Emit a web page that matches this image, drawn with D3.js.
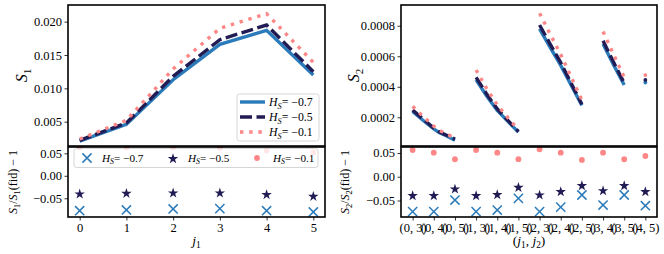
<!DOCTYPE html>
<html><head><meta charset="utf-8">
<script src="https://cdn.jsdelivr.net/npm/d3@7"></script>
<style>
body{margin:0;background:#fff}
svg{display:block}
text{font-family:"Liberation Serif","Times New Roman",serif;fill:#000}
</style>
</head><body>
<svg id="c" width="664" height="254"></svg>
<script>
// ---------------- data ----------------
const j1Ticks = [0, 1, 2, 3, 4, 5];
const hsValues = ["−0.7", "−0.5", "−0.1"];
const colors = ["#2b7bba", "#221c55", "#fd8686"];

// S1 vs j1
const s1Blue = [0.0021, 0.0046, 0.0113, 0.0166, 0.0187, 0.0120];
const s1Dark = [0.0022, 0.0048, 0.0118, 0.0173, 0.0195, 0.0125];
const s1Pink = [0.0024, 0.0052, 0.0129, 0.0190, 0.0212, 0.0139];

// S1 / S1(fid) - 1
const r1Blue = [-0.0776, -0.0760, -0.0738, -0.0731, -0.0776, -0.0804];
const r1Dark = [-0.0389, -0.0376, -0.0367, -0.0367, -0.0404, -0.0442];
const r1Pink = [0.063, 0.063, 0.063, 0.062, 0.056, 0.052];

// S2 (groups, x in pair-index units)
const pairLabels = ["(0, 3)", "(0, 4)", "(0, 5)", "(1, 3)", "(1, 4)", "(1, 5)",
                    "(2, 3)", "(2, 4)", "(2, 5)", "(3, 4)", "(3, 5)", "(4, 5)"];
const s2X = [[0, 0.5, 1, 1.25, 1.5, 2], [3, 3.5, 4, 4.5, 5], [6, 6.5, 7, 7.5, 8], [9, 9.5, 10], [11]];
const s2Blue = [[0.000238, 0.000179, 0.000124, 0.000100, 0.000085, 0.000050],
                [0.000445, 0.000340, 0.000245, 0.000173, 0.000103],
                [0.000780, 0.000658, 0.000540, 0.000408, 0.000278],
                [0.000680, 0.000543, 0.000412],
                [0.000428]];
const s2Dark = [[0.000248, 0.000187, 0.000129, 0.000105, 0.000089, 0.000057],
                [0.000462, 0.000352, 0.000255, 0.000180, 0.000107],
                [0.000805, 0.000680, 0.000558, 0.000422, 0.000285],
                [0.000702, 0.000560, 0.000425],
                [0.000445]];
const s2Pink = [[0.000272, 0.000205, 0.000142, 0.000115, 0.000098, 0.000063],
                [0.000510, 0.000388, 0.000280, 0.000198, 0.000118],
                [0.000882, 0.000745, 0.000612, 0.000462, 0.000312],
                [0.000762, 0.000612, 0.000462],
                [0.000477]];

// S2 / S2(fid) - 1
const r2Blue = [-0.0735, -0.0735, -0.0490, -0.0735, -0.0700, -0.0454, -0.0735, -0.0640, -0.0384, -0.0595, -0.0384, -0.0610];
const r2Dark = [-0.0384, -0.0384, -0.0244, -0.0384, -0.0363, -0.0210, -0.0370, -0.0300, -0.0174, -0.0280, -0.0174, -0.0300];
const r2Pink = [0.0563, 0.0506, 0.0368, 0.0563, 0.0506, 0.0370, 0.0578, 0.0506, 0.0353, 0.0506, 0.0368, 0.0437];

// ---------------- layout ----------------
const svg = d3.select("#c");
const L = {x0: 68, x1: 325}, R = {x0: 401, x1: 657};
const topY = [5, 146], botY = [147, 217];
const FS = 12.5;

const xL = d3.scaleLinear().domain([-0.25, 5.25]).range([L.x0, L.x1]);
const xR = d3.scaleLinear().domain([-0.55, 11.55]).range([R.x0, R.x1]);
const yLT = d3.scaleLinear().domain([0.001355, 0.0225]).range([topY[1], topY[0]]);
const yLB = d3.scaleLinear().domain([-0.0916, 0.064]).range([botY[1], botY[0]]);
const yRT = d3.scaleLinear().domain([0.0000118, 0.000936]).range([topY[1], topY[0]]);
const yRB = d3.scaleLinear().domain([-0.0847, 0.0626]).range([botY[1], botY[0]]);

const defs = svg.append("defs");
let clipId = 0;
function clip(x0, x1, y0, y1) {
  const id = "cl" + (clipId++);
  defs.append("clipPath").attr("id", id).append("rect")
    .attr("x", x0).attr("y", y0).attr("width", x1 - x0).attr("height", y1 - y0);
  return "url(#" + id + ")";
}

function rich(sel, parts, fs) {
  let prevSub = false;
  parts.forEach(p => {
    const ts = sel.append("tspan").text(p.t);
    if (p.i) ts.attr("font-style", "italic");
    if (p.sub) { ts.attr("font-size", fs * 0.7).attr("dy", fs * 0.22); prevSub = true; }
    else if (prevSub) { ts.attr("dy", -fs * 0.22); prevSub = false; }
  });
}

const minus = s => s.replace("-", "−");
function styleAxis(g) {
  g.select(".domain").remove();
  g.attr("font-family", null).attr("font-size", null);
  g.selectAll("text").attr("font-size", FS).style("font-family", '"Liberation Serif",serif');
  g.selectAll("line").attr("stroke-width", 0.8);
}

function yAxis(x0, scale, vals, fmt) {
  svg.append("g").attr("transform", `translate(${x0},0)`)
    .call(d3.axisLeft(scale).tickValues(vals).tickFormat(d => minus(d3.format(fmt)(d))).tickSize(3.5).tickPadding(2.5))
    .call(styleAxis);
}
function xAxis(y0, scale, vals, fmt) {
  svg.append("g").attr("transform", `translate(0,${y0})`)
    .call(d3.axisBottom(scale).tickValues(vals).tickFormat(fmt).tickSize(3.5).tickPadding(2.5))
    .call(styleAxis);
}

const lineStyles = [
  {w: 3.4, dash: null},
  {w: 3.4, dash: "12,4.5"},
  {w: 3.4, dash: "3.4,5.8"}
];

function drawLine(g, pts, sx, sy, k) {
  g.append("path").datum(pts)
    .attr("d", d3.line().x(d => sx(d[0])).y(d => sy(d[1])))
    .attr("fill", "none").attr("stroke", colors[k])
    .attr("stroke-width", lineStyles[k].w)
    .attr("stroke-dasharray", lineStyles[k].dash);
}

function drawMarker(g, cx, cy, k) {
  if (k === 0) {
    const s = 4.6;
    g.append("path").attr("d", `M${cx - s},${cy - s}L${cx + s},${cy + s}M${cx - s},${cy + s}L${cx + s},${cy - s}`)
      .attr("stroke", colors[0]).attr("stroke-width", 1.5).attr("fill", "none");
  } else if (k === 1) {
    g.append("path").attr("d", d3.symbol(d3.symbolStar, 34)())
      .attr("transform", `translate(${cx},${cy + 0.8})`).attr("fill", colors[1]);
  } else {
    g.append("circle").attr("cx", cx).attr("cy", cy).attr("r", 2.9).attr("fill", colors[2]);
  }
}

// ---------------- top-left: S1 ----------------
{
  const g = svg.append("g").attr("clip-path", clip(L.x0, L.x1, topY[0], topY[1]));
  [s1Blue, s1Dark, s1Pink].forEach((arr, k) => drawLine(g, j1Ticks.map((j, i) => [j, arr[i]]), xL, yLT, k));
  yAxis(L.x0, yLT, [0.005, 0.010, 0.015, 0.020], ".3f");
  // legend
  const lg = svg.append("g");
  lg.append("rect").attr("x", 237).attr("y", 94).attr("width", 82).attr("height", 47).attr("rx", 2.5)
    .attr("fill", "#fff").attr("fill-opacity", 0.85).attr("stroke", "#cccccc").attr("stroke-width", 0.8);
  hsValues.forEach((hv, k) => {
    const yy = 102 + k * 15;
    lg.append("line").attr("x1", 240).attr("x2", 265).attr("y1", yy).attr("y2", yy)
      .attr("stroke", colors[k]).attr("stroke-width", lineStyles[k].w).attr("stroke-dasharray", lineStyles[k].dash);
    const t = lg.append("text").attr("x", 269).attr("y", yy + 4).attr("font-size", 11.8);
    rich(t, [{t: "H", i: true}, {t: "S", i: true, sub: true}, {t: "= " + hv}], 11.8);
  });
}

// ---------------- bottom-left: ratio S1 ----------------
{
  const g = svg.append("g").attr("clip-path", clip(L.x0, L.x1, botY[0], botY[1]));
  [r1Blue, r1Dark, r1Pink].forEach((arr, k) => j1Ticks.forEach((j, i) => drawMarker(g, xL(j), yLB(arr[i]), k)));
  yAxis(L.x0, yLB, [-0.05, 0, 0.05], ".2f");
  xAxis(botY[1], xL, j1Ticks, d3.format("d"));
  const lg = svg.append("g");
  lg.append("rect").attr("x", 74).attr("y", 148.5).attr("width", 244).attr("height", 19).attr("rx", 2.5)
    .attr("fill", "#fff").attr("fill-opacity", 0.8).attr("stroke", "#cccccc").attr("stroke-width", 0.8);
  const mx = [87, 173, 257], tx = [102, 188, 273];
  hsValues.forEach((hv, k) => {
    drawMarker(lg, mx[k], 158, k);
    const t = lg.append("text").attr("x", tx[k]).attr("y", 161.5).attr("font-size", 11.2);
    rich(t, [{t: "H", i: true}, {t: "S", i: true, sub: true}, {t: "= " + hv}], 11.2);
  });
}

// ---------------- top-right: S2 ----------------
{
  const g = svg.append("g").attr("clip-path", clip(R.x0, R.x1, topY[0], topY[1]));
  [s2Blue, s2Dark, s2Pink].forEach((groups, k) => {
    groups.forEach((vals, gi) => {
      const pts = s2X[gi].map((x, i) => [x, vals[i]]);
      if (pts.length > 1) drawLine(g, pts, xR, yRT, k);
      else g.append("circle").attr("cx", xR(pts[0][0])).attr("cy", yRT(pts[0][1])).attr("r", 1.9).attr("fill", colors[k]);
    });
  });
  yAxis(R.x0, yRT, [0.0002, 0.0004, 0.0006, 0.0008], ".4f");
}

// ---------------- bottom-right: ratio S2 ----------------
{
  const g = svg.append("g").attr("clip-path", clip(R.x0, R.x1, botY[0], botY[1]));
  [r2Blue, r2Dark, r2Pink].forEach((arr, k) => pairLabels.forEach((p, i) => drawMarker(g, xR(i), yRB(arr[i]), k)));
  yAxis(R.x0, yRB, [-0.05, 0, 0.05], ".2f");
  xAxis(botY[1], xR, d3.range(pairLabels.length), i => pairLabels[i]);
}

// ---------------- frames ----------------
[[L, topY], [L, botY], [R, topY], [R, botY]].forEach(([P, Y]) => {
  svg.append("rect").attr("x", P.x0).attr("y", Y[0]).attr("width", P.x1 - P.x0).attr("height", Y[1] - Y[0])
    .attr("fill", "none").attr("stroke", "#000").attr("stroke-width", 1.6);
});

// ---------------- axis labels ----------------
function yLabel(x, y, parts, fs) {
  const t = svg.append("text").attr("transform", `translate(${x},${y}) rotate(-90)`)
    .attr("text-anchor", "middle").attr("font-size", fs);
  rich(t, parts, fs);
}
yLabel(27, 75.5, [{t: "S", i: true}, {t: "1", sub: true}], 16);
yLabel(17, 182, [{t: "S", i: true}, {t: "1", sub: true}, {t: "/"}, {t: "S", i: true}, {t: "1", sub: true}, {t: "(fid) − 1"}], 12);
yLabel(359, 75.5, [{t: "S", i: true}, {t: "2", sub: true}], 16);
yLabel(349, 182, [{t: "S", i: true}, {t: "2", sub: true}, {t: "/"}, {t: "S", i: true}, {t: "2", sub: true}, {t: "(fid) − 1"}], 12);

{
  const t = svg.append("text").attr("x", (L.x0 + L.x1) / 2).attr("y", 245).attr("text-anchor", "middle").attr("font-size", 13.5);
  rich(t, [{t: "j", i: true}, {t: "1", sub: true}], 13.5);
  const t2 = svg.append("text").attr("x", (R.x0 + R.x1) / 2).attr("y", 245).attr("text-anchor", "middle").attr("font-size", 13.5);
  rich(t2, [{t: "("}, {t: "j", i: true}, {t: "1", sub: true}, {t: ", "}, {t: "j", i: true}, {t: "2", sub: true}, {t: ")"}], 13.5);
}
</script>
</body></html>
